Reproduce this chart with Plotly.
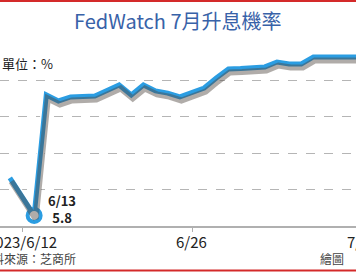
import plotly.graph_objects as go
from datetime import datetime, timedelta

# ---- data ----
dates = ["2023-06-11", "2023-06-12", "2023-06-13", "2023-06-14", "2023-06-15", "2023-06-16",
         "2023-06-17", "2023-06-18", "2023-06-19", "2023-06-20", "2023-06-21", "2023-06-22",
         "2023-06-23", "2023-06-24", "2023-06-25", "2023-06-26", "2023-06-27", "2023-06-28",
         "2023-06-29", "2023-06-30", "2023-07-01", "2023-07-02", "2023-07-03", "2023-07-04",
         "2023-07-05", "2023-07-06", "2023-07-07", "2023-07-08", "2023-07-09", "2023-07-10"]
prob = [26.4, 16.5, 5.8, 72.0, 68.7, 70.9,
        70.9, 71.4, 74.5, 77.5, 72.0, 77.5,
        74.2, 73.0, 70.9, 73.0, 75.8, 81.3,
        86.3, 86.5, 86.8, 87.4, 90.1, 89.0,
        89.0, 92.9, 92.9, 92.9, 92.9, 92.9]
tick_vals = ["2023-06-12", "2023-06-26", "2023-07-10"]
tick_text = ["2023/6/12", "6/26", "7/10"]
low_date, low_val = "2023-06-13", 5.8

W, H = 356, 272
ML, MR, MT, MB = 0, 0, 44, 46
plot_h = H - MT - MB
px_per_day = 170 / 14.0
x0 = datetime(2023, 6, 12) - timedelta(days=22 / px_per_day)
x1 = x0 + timedelta(days=W / px_per_day)
unit = 100 / plot_h
shadow_dy = 3.5 * unit
shadow_dx = timedelta(days=1.5 / px_per_day)


def frac(d):
    dt = datetime.strptime(d, "%Y-%m-%d")
    return (dt - x0) / (x1 - x0)


BLUE = "#2b9de2"
fig = go.Figure()
# shadow (same data on shifted axes)
fig.add_trace(go.Scatter(x=dates, y=prob, mode="lines", xaxis="x2", yaxis="y2",
                         line=dict(color="rgba(80,70,65,0.45)", width=6), hoverinfo="skip"))
fig.add_trace(go.Scatter(x=dates, y=prob, mode="lines",
                         line=dict(color="white", width=8), hoverinfo="skip"))
fig.add_trace(go.Scatter(x=dates, y=prob, mode="lines",
                         line=dict(color=BLUE, width=5)))
fig.add_trace(go.Scatter(x=[low_date], y=[low_val], mode="markers",
                         marker=dict(size=13, color="white", line=dict(color=BLUE, width=4))))

fig.update_layout(
    width=W, height=H, margin=dict(l=ML, r=MR, t=MT, b=MB),
    paper_bgcolor="white", plot_bgcolor="white", showlegend=False,
    font=dict(family="Noto Sans CJK TC", color="#222"),
    xaxis=dict(range=[x0, x1], tickvals=tick_vals, showticklabels=False, showgrid=False,
               showline=True, linecolor="#b0b0b0", linewidth=1.5, ticks="outside",
               ticklen=4, tickcolor="#b0b0b0", zeroline=False),
    yaxis=dict(range=[0, 100], tickvals=[20, 40, 60, 80, 100], showticklabels=False,
               showgrid=True, gridcolor="#b5b5b5", griddash="dash", gridwidth=1, zeroline=False),
    xaxis2=dict(range=[x0 - shadow_dx, x1 - shadow_dx], overlaying="x", visible=False),
    yaxis2=dict(range=[shadow_dy, 100 + shadow_dy], overlaying="y", visible=False),
)

# x tick labels as annotations (so partially cropped ones still show)
for tv, tt in zip(tick_vals, tick_text):
    fig.add_annotation(xref="paper", yref="paper", x=frac(tv), y=0, yshift=-15,
                       xanchor="center", yanchor="middle", text=tt, showarrow=False,
                       font=dict(size=15, color="#222"))

fig.add_annotation(x=low_date, y=low_val, text="<b>6/13</b><br><b>5.8</b>", showarrow=False,
                   xshift=28, yshift=6, font=dict(size=13, color="#222"))

fig.add_annotation(xref="paper", yref="paper", x=0.5, y=1, yshift=24, yanchor="middle",
                   text="FedWatch 7月升息機率", showarrow=False,
                   font=dict(size=20, color="#3862a8"))
fig.add_annotation(xref="paper", yref="paper", x=0, y=1, yshift=-19, xanchor="left",
                   yanchor="middle", text="單位：%", showarrow=False,
                   font=dict(size=13, color="#222"))
fig.add_annotation(xref="paper", yref="paper", x=78 / W, y=0, yshift=-32, xanchor="right",
                   yanchor="middle", text="資料來源：芝商所", showarrow=False,
                   font=dict(size=12, color="#444"))
fig.add_annotation(xref="paper", yref="paper", x=346 / W, y=0, yshift=-32, xanchor="right",
                   yanchor="middle", text="繪圖", showarrow=False,
                   font=dict(size=12, color="#444"))

# red frame lines top and bottom
fig.add_shape(type="line", xref="paper", yref="paper", x0=0, x1=1, y0=1 + (MT - 1) / plot_h,
              y1=1 + (MT - 1) / plot_h, line=dict(color="#d42a2a", width=2))
fig.add_shape(type="line", xref="paper", yref="paper", x0=0, x1=1, y0=-(MB - 1.5) / plot_h,
              y1=-(MB - 1.5) / plot_h, line=dict(color="#d42a2a", width=2))

fig.write_html("out.html")
